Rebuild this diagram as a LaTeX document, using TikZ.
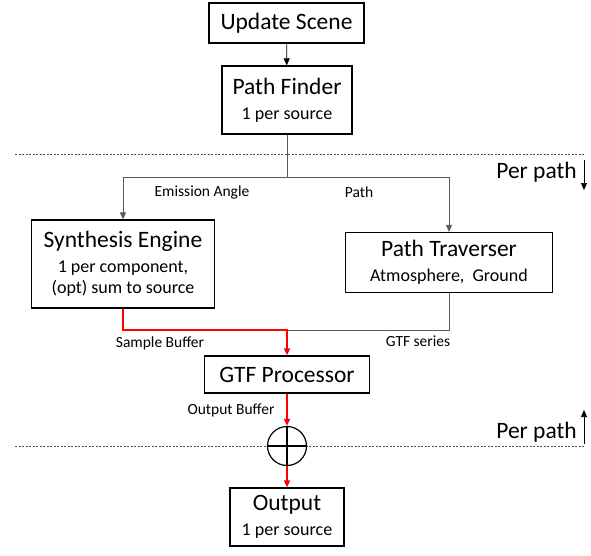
\documentclass[tikz,border=0pt]{standalone}
\usepackage{fontspec}
\setmainfont{Carlito}
\usetikzlibrary{arrows.meta}
\newcommand\bigf{\fontsize{23.5}{26}\selectfont}
\newcommand\smallf{\fontsize{18}{21.5}\selectfont}
\newcommand\labf{\fontsize{15.5}{18}\selectfont}
\begin{document}
\begin{tikzpicture}[x=1pt,y=-1pt,
  box/.style={draw, line width=1.2pt, inner sep=0pt, align=center, fill=white, font=\smallf},
  tip/.tip={Triangle[length=7pt,width=6pt]},
  blk/.style={draw=black, line width=0.7pt},
  gr/.style={draw=black!65, line width=0.8pt},
  redl/.style={draw=red, line width=1.6pt},
  dsh/.style={draw=black!70, line width=0.6pt, dash pattern=on 2pt off 1.5pt},
  lab/.style={font=\labf, inner sep=0pt}]
\useasboundingbox (0,0) rectangle (591,555);
% dashed separators
\coordinate (d1l) at (15,154); \coordinate (d1r) at (585,154);
\coordinate (d2l) at (15,446); \coordinate (d2r) at (585,446);
\draw[dsh] (d1l) -- (d1r);
\draw[dsh] (d2l) -- (d2r);
% boxes
\node[box, minimum width=155, minimum height=40] (us) at (286.5,23) {\bigf Update Scene};
\node[box, minimum width=130, minimum height=68] (pf) at (287,100) {\bigf Path Finder\\[3.5pt]\smallf 1 per source};
\node[box, minimum width=183, minimum height=88] (se) at (123,264) {\bigf Synthesis Engine\\[3.5pt]\smallf 1 per component,\\\smallf (opt) sum to source};
\node[box, minimum width=207, minimum height=60] (pt) at (449,262.5) {\bigf Path Traverser\\[3.5pt]\smallf Atmosphere,\ \ Ground};
\node[box, minimum width=165, minimum height=37] (gtf) at (287,374.5) {\bigf GTF Processor};
\node[box, minimum width=114, minimum height=58] (out) at (287,517) {\bigf Output\\[3.5pt]\smallf 1 per source};
\node[circle, draw, line width=1.2pt, fill=white, minimum size=39pt, inner sep=0pt] (sum) at (287,446) {};
\draw[line width=1.2pt] (sum.north) -- (sum.south);
\draw[line width=1.2pt] (sum.west) -- (sum.east);
% connectors
\coordinate (br) at (287,177);
\coordinate (mg) at (287,330);
\draw[blk,-tip] (us) -- (pf);
\draw[gr] (pf.south) -- (br);
\draw[gr,-tip] (br) -| (se.north);
\draw[gr,-tip] (br) -| (pt.north);
\draw[gr] (pt.south) |- (mg);
\draw[redl,-tip] (se.south) |- (mg) -- (gtf.north);
\draw[redl,-tip] (gtf) -- (sum);
\draw[redl,-tip] (sum) -- (out);
% labels
\node[lab] (ea) at (202,192) {Emission Angle};
\node[lab] (pl) at (359,192) {Path};
\node[lab] (sb) at (160,343) {Sample Buffer};
\node[lab] (gs) at (418,341) {GTF series};
\node[lab] (ob) at (231,410) {Output Buffer};
% per path markers
\node[anchor=east, inner sep=0pt, font=\bigf] (pp1) at (577,172) {Per path};
\node[anchor=east, inner sep=0pt, font=\bigf] (pp2) at (577,432) {Per path};
\coordinate (a1s) at (584,160); \coordinate (a1e) at (584,190);
\coordinate (a2s) at (584,444); \coordinate (a2e) at (584,410);
\draw[blk,-tip] (a1s) -- (a1e);
\draw[blk,-tip] (a2s) -- (a2e);
\end{tikzpicture}
\end{document}
